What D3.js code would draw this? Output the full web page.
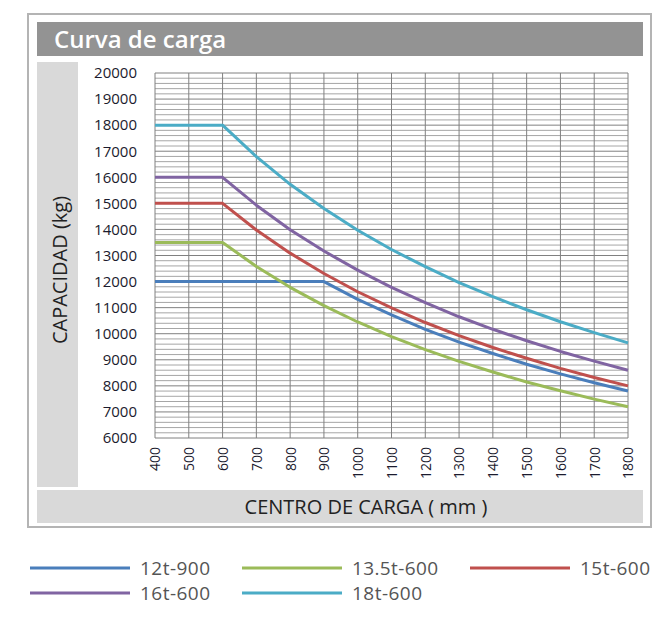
<!DOCTYPE html>
<html lang="es">
<head>
<meta charset="UTF-8">
<title>Curva de carga</title>
<style>
  body { margin: 0; background: #fff; }
  svg text { font-family: "Open Sans", "Noto Sans", sans-serif; }
</style>
</head>
<body>
<div id="chart"></div>
<script src="https://d3js.org/d3.v7.min.js"></script>
<script>
// load centre (mm)
const centers = [400, 500, 600, 700, 800, 900, 1000, 1100, 1200, 1300, 1400, 1500, 1600, 1700, 1800]
const yTicks = [6000, 7000, 8000, 9000, 10000, 11000, 12000, 13000, 14000, 15000, 16000, 17000, 18000, 19000, 20000]

// capacity (kg)
const cap12 = [12000, 12000, 12000, 12000, 12000, 12000, 11320, 10720, 10170, 9680, 9240, 8830, 8460, 8120, 7800]
const cap135 = [13500, 13500, 13500, 12580, 11780, 11080, 10450, 9890, 9390, 8940, 8530, 8150, 7810, 7490, 7200]
const cap15 = [15000, 15000, 15000, 13980, 13090, 12310, 11610, 10990, 10430, 9930, 9470, 9060, 8670, 8320, 8000]
const cap16 = [16000, 16000, 16000, 14930, 13990, 13170, 12440, 11780, 11190, 10650, 10170, 9730, 9320, 8950, 8600]
const cap18 = [18000, 18000, 18000, 16790, 15730, 14800, 13970, 13230, 12570, 11960, 11420, 10920, 10460, 10040, 9650]

const seriesNames = ['12t-900', '13.5t-600', '15t-600', '16t-600', '18t-600']
const seriesColors = ['#4a7ebb', '#9bbb59', '#c0504d', '#8064a2', '#4bacc6']
const seriesValues = [cap12, cap135, cap15, cap16, cap18]

const svg = d3.select('#chart').append('svg')
  .attr('width', 670)
  .attr('height', 617)

// frame and panels
svg.append('rect')
  .attr('x', 28).attr('y', 14).attr('width', 623).attr('height', 513)
  .attr('fill', 'none').attr('stroke', '#b4b4b4').attr('stroke-width', 2)

svg.append('rect')
  .attr('x', 37).attr('y', 22).attr('width', 606).attr('height', 34)
  .attr('fill', '#939393')

svg.append('text')
  .attr('x', 54).attr('y', 48)
  .attr('fill', '#fff')
  .attr('font-size', 24)
  .attr('font-weight', 600)
  .text('Curva de carga')

svg.append('rect')
  .attr('x', 37).attr('y', 62).attr('width', 41).attr('height', 425)
  .attr('fill', '#d9d9d9')

svg.append('rect')
  .attr('x', 37).attr('y', 490).attr('width', 606).attr('height', 33)
  .attr('fill', '#d9d9d9')

svg.append('text')
  .attr('transform', 'translate(67,270) rotate(-90)')
  .attr('text-anchor', 'middle')
  .attr('font-size', 20)
  .attr('fill', '#222')
  .text('CAPACIDAD (kg)')

svg.append('text')
  .attr('x', 366).attr('y', 514)
  .attr('text-anchor', 'middle')
  .attr('font-size', 20)
  .attr('fill', '#222')
  .text('CENTRO DE CARGA ( mm )')

// scales
const x = d3.scaleLinear().domain([400, 1800]).range([155, 628])
const y = d3.scaleLinear().domain([6000, 20000]).range([438, 73])

// grid
const minorTicks = d3.range(6000, 20001, 200)
svg.append('g')
  .selectAll('line')
  .data(minorTicks)
  .join('line')
    .attr('x1', x(400)).attr('x2', x(1800))
    .attr('y1', d => y(d)).attr('y2', d => y(d))
    .attr('stroke', d => d % 1000 === 0 ? '#808080' : '#a6a6a6')
    .attr('stroke-width', 1)

svg.append('g')
  .selectAll('line')
  .data(centers)
  .join('line')
    .attr('x1', d => x(d)).attr('x2', d => x(d))
    .attr('y1', y(6000)).attr('y2', y(20000))
    .attr('stroke', '#808080')
    .attr('stroke-width', 1)

// y axis labels
const leftAxis = d3.axisLeft(y).tickValues(yTicks).tickSize(0).tickPadding(18).tickFormat(d3.format('d'))
const gy = svg.append('g')
  .attr('transform', `translate(${x(400)},0)`)
  .call(leftAxis)
gy.select('.domain').remove()
gy.selectAll('text')
  .attr('font-size', 15)
  .attr('fill', '#1b1b2e')
  .style('font-family', '"Open Sans", "Noto Sans", sans-serif')

// x axis labels (vertical)
const bottomAxis = d3.axisBottom(x).tickValues(centers).tickSize(0).tickFormat(d3.format('d'))
const gx = svg.append('g')
  .attr('transform', `translate(0,${y(6000)})`)
  .call(bottomAxis)
gx.select('.domain').remove()
gx.selectAll('text')
  .attr('font-size', 14)
  .attr('fill', '#1b1b2e')
  .attr('text-anchor', 'end')
  .attr('dy', '0.35em')
  .attr('transform', 'translate(0,9) rotate(-90)')
  .attr('x', 0).attr('y', 0)
  .style('font-family', '"Open Sans", "Noto Sans", sans-serif')

// curves
const line = d3.line()
  .x((d, i) => x(centers[i]))
  .y(d => y(d))

svg.append('g')
  .selectAll('path')
  .data(seriesValues)
  .join('path')
    .attr('d', d => line(d))
    .attr('fill', 'none')
    .attr('stroke', (d, i) => seriesColors[i])
    .attr('stroke-width', 3)
    .attr('stroke-linejoin', 'round')

// legend
const legendPos = [
  {lx: 30, ly: 568}, {lx: 242, ly: 568}, {lx: 470, ly: 568},
  {lx: 30, ly: 593}, {lx: 242, ly: 593}
]
const legend = svg.append('g')
  .selectAll('g')
  .data(seriesNames)
  .join('g')
    .attr('transform', (d, i) => `translate(${legendPos[i].lx},${legendPos[i].ly})`)

legend.append('line')
  .attr('x1', 0).attr('x2', 100)
  .attr('stroke', (d, i) => seriesColors[i])
  .attr('stroke-width', 3)

legend.append('text')
  .attr('x', 110).attr('y', 7)
  .attr('font-size', 19)
  .attr('fill', '#555')
  .attr('textLength', (d, i) => i === 1 ? 86 : 70)
  .text(d => d)
</script>
</body>
</html>
